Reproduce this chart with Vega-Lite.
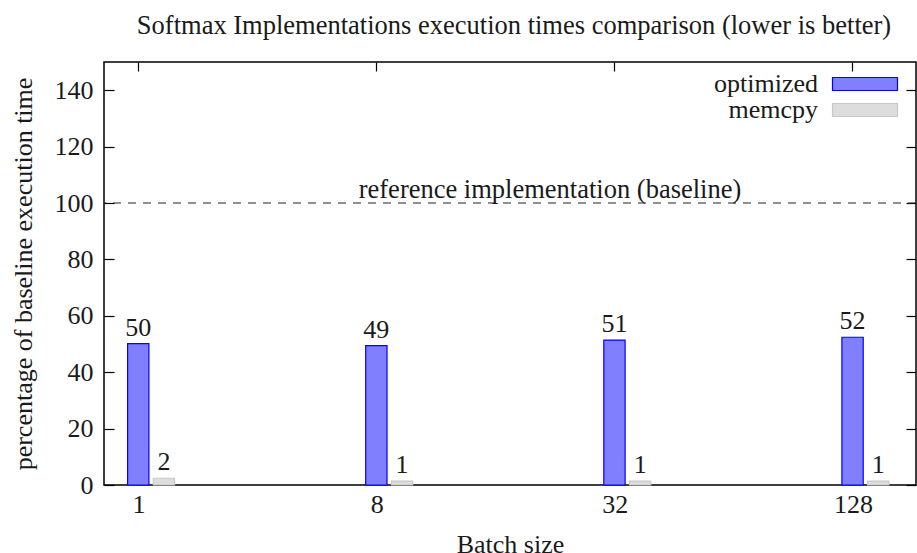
{
  "$schema": "https://vega.github.io/schema/vega-lite/v6.json",
  "width": 812,
  "height": 423,
  "autosize": {"type": "none"},
  "padding": {"left": 104, "top": 62, "right": 1, "bottom": 68},
  "background": "white",
  "config": {
    "font": "Liberation Serif",
    "view": {"stroke": "#000000", "strokeWidth": 1.5},
    "axis": {"grid": false, "domain": false, "labelFont": "Liberation Serif", "titleFont": "Liberation Serif", "labelFontSize": 26, "titleFontSize": 26, "labelColor": "#1a1a1a", "titleColor": "#1a1a1a", "titleFontWeight": "normal", "tickColor": "#000000", "tickWidth": 1.2}
  },
  "title": {"text": "Softmax Implementations execution times comparison (lower is better)", "font": "Liberation Serif", "fontSize": 26.5, "fontWeight": "normal", "color": "#1a1a1a", "anchor": "middle", "dx": 4, "offset": 22},
  "layer": [
    {
      "data": {"name": "times", "values": [
        {"batch": "1", "series": "optimized", "value": 50.1},
        {"batch": "1", "series": "memcpy", "value": 2.4},
        {"batch": "8", "series": "optimized", "value": 49.4},
        {"batch": "8", "series": "memcpy", "value": 1.4},
        {"batch": "32", "series": "optimized", "value": 51.4},
        {"batch": "32", "series": "memcpy", "value": 1.4},
        {"batch": "128", "series": "optimized", "value": 52.4},
        {"batch": "128", "series": "memcpy", "value": 1.4}
      ]},
      "mark": {"type": "bar", "strokeWidth": 1.2},
      "encoding": {
        "x": {"field": "batch", "type": "nominal", "sort": ["1", "8", "32", "128"], "scale": {"paddingInner": 0.8026, "paddingOuter": 0.1065, "align": 0.4655},
          "axis": {"orient": "bottom", "title": "Batch size", "labelAngle": 0, "ticks": false, "labelPadding": 6, "labelOffset": -12, "titlePadding": 14}},
        "xOffset": {"field": "series", "type": "nominal", "sort": ["optimized", "memcpy"], "scale": {"paddingInner": 0.17, "paddingOuter": 0}},
        "y": {"field": "value", "type": "quantitative", "scale": {"domain": [0, 150], "nice": false},
          "axis": {"orient": "left", "title": "percentage of baseline execution time", "values": [0, 20, 40, 60, 80, 100, 120, 140], "tickSize": -10, "labelPadding": 21, "titlePadding": 18}},
        "color": {"field": "series", "type": "nominal", "sort": ["optimized", "memcpy"],
          "scale": {"domain": ["optimized", "memcpy"], "range": ["#8080ff", "#dddddd"]},
          "legend": {"orient": "none", "legendX": 748, "legendY": 9, "title": null, "padding": 0,
            "symbolType": "M-5,-1H5V1H-5Z", "symbolSize": 169, "symbolStrokeWidth": 1.2,
            "labelAlign": "right", "labelOffset": -60, "labelFont": "Liberation Serif", "labelFontSize": 26, "labelColor": "#1a1a1a", "rowPadding": -1}},
        "stroke": {"field": "series", "type": "nominal", "sort": ["optimized", "memcpy"],
          "scale": {"domain": ["optimized", "memcpy"], "range": ["#0000ff", "#c8c8c8"]},
          "legend": {"orient": "none", "legendX": 748, "legendY": 9, "title": null, "padding": 0,
            "symbolType": "M-5,-1H5V1H-5Z", "symbolSize": 169, "symbolStrokeWidth": 1.2,
            "labelAlign": "right", "labelOffset": -60, "labelFont": "Liberation Serif", "labelFontSize": 26, "labelColor": "#1a1a1a", "rowPadding": -1}}
      }
    },
    {
      "data": {"name": "times"},
      "mark": {"type": "text", "baseline": "alphabetic", "dy": -8, "fontSize": 26, "font": "Liberation Serif", "color": "#1a1a1a"},
      "encoding": {
        "x": {"field": "batch", "type": "nominal", "sort": ["1", "8", "32", "128"], "scale": {"paddingInner": 0.8026, "paddingOuter": 0.1065, "align": 0.4655},
          "axis": {"orient": "top", "title": null, "labels": false, "tickSize": -9, "tickOffset": -13}},
        "xOffset": {"field": "series", "type": "nominal", "sort": ["optimized", "memcpy"], "scale": {"paddingInner": 0.17, "paddingOuter": 0}},
        "y": {"field": "value", "type": "quantitative", "scale": {"domain": [0, 150], "nice": false},
          "axis": {"orient": "right", "title": null, "labels": false, "values": [0, 20, 40, 60, 80, 100, 120, 140], "tickSize": -10}},
        "text": {"field": "value", "type": "quantitative", "format": ".0f"}
      }
    },
    {
      "data": {"values": [{"ref": 100, "label": "reference implementation (baseline)"}]},
      "mark": {"type": "rule", "strokeDash": [8, 7], "strokeWidth": 1.2, "color": "#222222"},
      "encoding": {"y": {"field": "ref", "type": "quantitative", "axis": null}}
    },
    {
      "data": {"values": [{"ref": 100, "label": "reference implementation (baseline)"}]},
      "mark": {"type": "text", "baseline": "alphabetic", "dy": -5, "dx": 40, "fontSize": 26.5, "font": "Liberation Serif", "color": "#1a1a1a"},
      "encoding": {"y": {"field": "ref", "type": "quantitative", "axis": null}, "text": {"field": "label"}}
    }
  ],
  "resolve": {"axis": {"x": "independent", "y": "independent"}}
}
